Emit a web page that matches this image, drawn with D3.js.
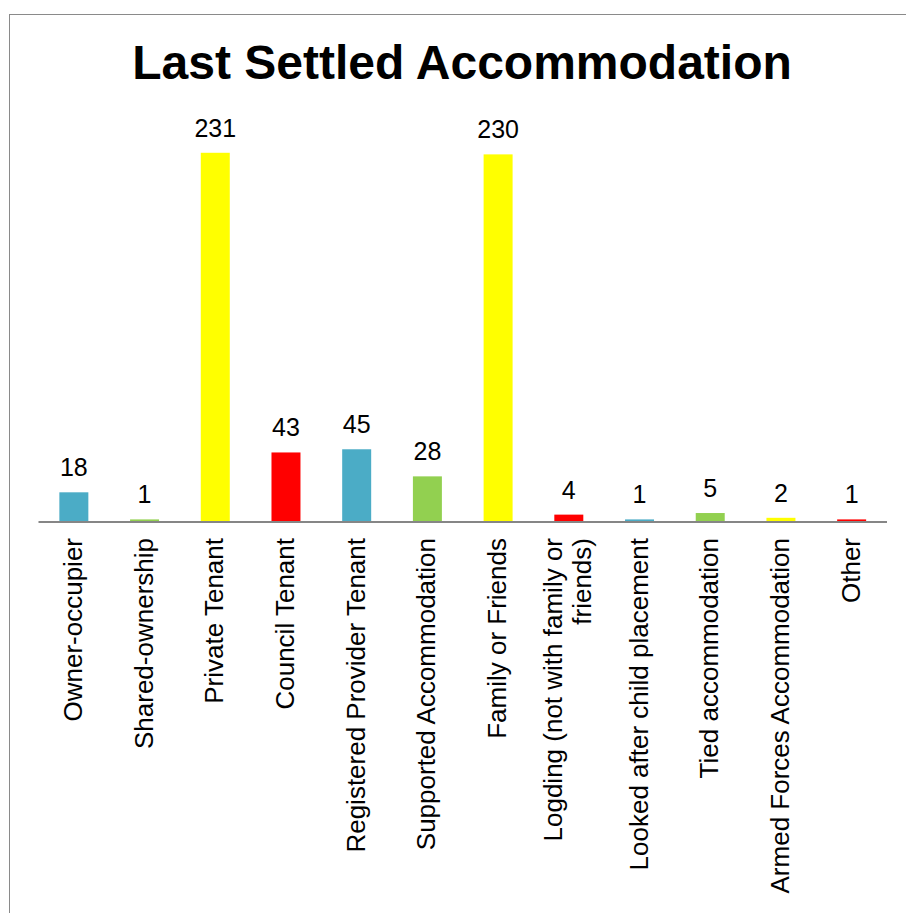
<!DOCTYPE html>
<html>
<head>
<meta charset="utf-8">
<script src="https://cdn.jsdelivr.net/npm/d3@7/dist/d3.min.js"></script>
<style>
  html, body { margin: 0; padding: 0; background: #fff; }
  svg { display: block; }
  text { font-family: "Liberation Sans", Arial, sans-serif; fill: #000; }
</style>
</head>
<body>
<svg id="chart" width="906" height="913"></svg>
<script>
const title = "Last Settled Accommodation";
const categories = [
  ["Owner-occupier"],
  ["Shared-ownership"],
  ["Private Tenant"],
  ["Council Tenant"],
  ["Registered Provider Tenant"],
  ["Supported Accommodation"],
  ["Family or Friends"],
  ["Logding (not with family or", "friends)"],
  ["Looked after child placement"],
  ["Tied accommodation"],
  ["Armed Forces Accommodation"],
  ["Other"]
];
const values = [18, 1, 231, 43, 45, 28, 230, 4, 1, 5, 2, 1];
const palette = ["#4BACC6", "#92D050", "#FFFF00", "#FF0000"];

const svg = d3.select("#chart");

// outer frame (extends past the right and bottom edges)
svg.append("rect")
  .attr("x", 9.5).attr("y", 14.5)
  .attr("width", 1000).attr("height", 1000)
  .attr("fill", "#fff").attr("stroke", "#8a8a8a").attr("stroke-width", 1);

const baseY = 521;
const x = d3.scaleBand()
  .domain(d3.range(categories.length))
  .range([38.5, 887])
  .paddingInner(0.59)
  .paddingOuter(0.295);
const y = d3.scaleLinear().domain([0, 250]).range([baseY, baseY - 250 * 1.594]);

svg.append("text")
  .attr("x", 462).attr("y", 79)
  .attr("text-anchor", "middle")
  .attr("font-size", 48).attr("font-weight", "bold")
  .text(title);

svg.append("g").selectAll("rect")
  .data(values)
  .join("rect")
  .attr("x", (d, i) => x(i))
  .attr("width", x.bandwidth())
  .attr("y", d => y(d))
  .attr("height", d => y(0) - y(d))
  .attr("fill", (d, i) => palette[i % 4]);

svg.append("g").selectAll("text")
  .data(values)
  .join("text")
  .attr("x", (d, i) => x(i) + x.bandwidth() / 2)
  .attr("y", d => y(d) - 16)
  .attr("text-anchor", "middle")
  .attr("font-size", 25)
  .text(d => d);

// axis line, just below the bar bases
const axis = d3.axisBottom(x).tickSize(0).tickFormat("");
const ag = svg.append("g").attr("transform", `translate(0,${baseY + 1})`).call(axis);
ag.select(".domain").attr("stroke", "#868686").attr("stroke-width", 2)
  .attr("d", `M${x.range()[0]},0H${x.range()[1]}`);

// category labels rotated
const lineH = 29;
const lg = svg.append("g");
categories.forEach((lines, i) => {
  const cx = x(i) + x.bandwidth() / 2;
  const n = lines.length;
  lines.forEach((ln, j) => {
    const off = (j - (n - 1) / 2) * lineH;
    lg.append("text")
      .attr("transform", `translate(${cx + off + 8},538) rotate(-90)`)
      .attr("text-anchor", "end")
      .attr("font-size", 26)
      .text(ln);
  });
});
</script>
</body>
</html>
